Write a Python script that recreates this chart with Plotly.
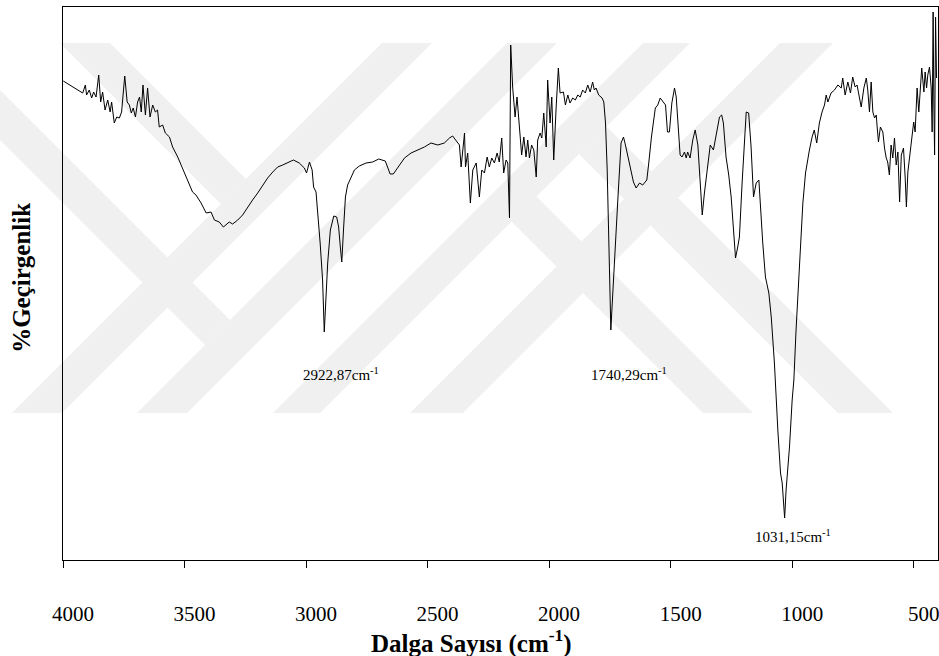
import numpy as np
import plotly.graph_objects as go

# FTIR spektrumu: dalga sayisi (cm-1) ve gecirgenlik (eksende birim yok, keyfi olcek)
wavenumber = [
    3999, 3974, 3946, 3919, 3908, 3903, 3892, 3882, 3874, 3864, 3853, 3845, 3837, 3827, 3816,
    3806, 3800, 3789, 3779, 3768, 3759, 3746, 3736, 3727, 3719, 3711, 3702, 3693, 3685, 3678,
    3671, 3661, 3652, 3642, 3631, 3620, 3611, 3604, 3590, 3579, 3562, 3549, 3528, 3508, 3487,
    3467, 3453, 3432, 3411, 3391, 3377, 3357, 3340, 3316, 3302, 3281, 3261, 3240, 3220, 3199,
    3178, 3158, 3137, 3117, 3096, 3076, 3052, 3028, 3007, 2998, 2986, 2975, 2969, 2959, 2952,
    2942, 2932, 2925, 2920, 2911, 2900, 2886, 2874, 2866, 2859, 2853, 2846, 2838, 2829, 2815,
    2801, 2781, 2753, 2726, 2701, 2674, 2664, 2654, 2641, 2630, 2616, 2595, 2568, 2541, 2513,
    2486, 2458, 2431, 2410, 2397, 2383, 2369, 2362, 2355, 2348, 2344, 2335, 2324, 2314, 2300,
    2287, 2277, 2266, 2255, 2246, 2236, 2225, 2214, 2205, 2195, 2187, 2177, 2170, 2163, 2158,
    2150, 2140, 2132, 2122, 2113, 2104, 2095, 2088, 2081, 2072, 2063, 2053, 2047, 2037, 2030,
    2022, 2012, 2006, 1996, 1989, 1981, 1971, 1962, 1955, 1941, 1933, 1923, 1914, 1903, 1892,
    1882, 1872, 1862, 1851, 1841, 1831, 1821, 1814, 1807, 1796, 1782, 1775, 1768, 1761, 1755,
    1749, 1746, 1741, 1731, 1718, 1704, 1694, 1686, 1677, 1663, 1653, 1642, 1628, 1615, 1598,
    1590, 1579, 1563, 1553, 1543, 1532, 1521, 1513, 1505, 1495, 1484, 1477, 1468, 1461, 1453,
    1443, 1436, 1430, 1420, 1409, 1399, 1388, 1379, 1370, 1361, 1350, 1337, 1324, 1313, 1299,
    1290, 1283, 1272, 1261, 1251, 1242, 1233, 1224, 1217, 1206, 1196, 1189, 1179, 1169, 1159,
    1148, 1137, 1132, 1121, 1110, 1096, 1086, 1073, 1059, 1048, 1041, 1031, 1025, 1011, 1000,
    993, 984, 970, 956, 945, 936, 929, 918, 909, 899, 888, 877, 867, 860, 853,
    840, 826, 812, 798, 792, 782, 771, 760, 751, 741, 733, 723, 716, 705, 695,
    689, 682, 675, 668, 661, 654, 650, 645, 637, 627, 620, 613, 607, 600, 593,
    586, 579, 572, 565, 558, 551, 542, 535, 530, 524, 517, 508, 500, 494, 486,
    479, 472, 467, 458, 453, 447, 442, 435, 428, 424, 420, 417, 414, 410, 406,
]
transmittance = [
    479, 475, 471, 467, 475, 465, 470, 462, 468, 463, 485, 458, 468, 450, 460,
    448, 458, 437, 443, 442, 448, 484, 458, 455, 447, 452, 443, 458, 463, 448,
    475, 445, 472, 443, 455, 448, 450, 433, 435, 427, 423, 413, 403, 392, 380,
    368, 365, 357, 347, 348, 340, 338, 333, 338, 336, 340, 345, 353, 360, 367,
    375, 382, 388, 393, 395, 397, 400, 397, 392, 387, 398, 390, 373, 368, 348,
    317, 280, 228, 253, 297, 330, 344, 343, 333, 313, 298, 330, 363, 375, 383,
    390, 394, 397, 398, 401, 399, 393, 386, 386, 390, 395, 402, 407, 410, 413,
    417, 415, 417, 422, 424, 420, 415, 393, 410, 427, 393, 407, 357, 390, 397,
    363, 390, 387, 403, 393, 402, 397, 407, 398, 422, 387, 400, 397, 342, 515,
    473, 443, 463, 435, 405, 423, 403, 420, 402, 415, 410, 383, 420, 427, 422,
    447, 413, 480, 437, 463, 400, 453, 492, 467, 468, 455, 465, 457, 462, 460,
    465, 463, 470, 467, 475, 468, 478, 470, 472, 465, 462, 458, 437, 390, 323,
    270, 230, 253, 303, 357, 417, 423, 415, 405, 390, 378, 372, 377, 375, 380,
    397, 423, 452, 455, 462, 458, 455, 428, 428, 457, 472, 463, 430, 405, 403,
    408, 402, 408, 402, 420, 430, 415, 380, 345, 367, 390, 415, 410, 423, 443,
    445, 437, 403, 385, 363, 333, 302, 313, 323, 377, 423, 448, 447, 413, 363,
    377, 380, 357, 317, 283, 267, 243, 197, 130, 87, 77, 42, 70, 113, 160,
    180, 230, 297, 357, 387, 403, 410, 423, 430, 417, 437, 448, 455, 465, 458,
    467, 470, 475, 472, 482, 465, 478, 467, 483, 473, 475, 463, 453, 472, 482,
    470, 448, 478, 448, 442, 445, 432, 418, 433, 428, 412, 402, 398, 385, 415,
    402, 422, 395, 408, 358, 405, 412, 382, 353, 388, 402, 425, 438, 428, 472,
    448, 482, 492, 468, 488, 472, 485, 493, 472, 428, 548, 455, 405, 543, 482,
]

tick_values = [4000, 3500, 3000, 2500, 2000, 1500, 1000, 500]
peak_wavenumbers = [2922.87, 1740.29, 1031.15]
peak_labels = ["2922,87cm<sup>-1</sup>", "1740,29cm<sup>-1</sup>", "1031,15cm<sup>-1</sup>"]

x_title = "Dalga Sayısı (cm<sup>-1</sup>)"
y_title = "%Geçirgenlik"

FONT = "Liberation Serif, Times New Roman, serif"
W, H = 939, 656
M_L, M_R, M_T, M_B = 63, 1, 7, 96

fig = go.Figure()


# arka plandaki soluk filigran (yaklasik), piksel -> paper donusumu
def wm_path(points):
    pw = W - M_L - M_R
    ph = H - M_T - M_B
    pts = [f"{(x - M_L) / pw:.4f},{(H - M_B - y) / ph:.4f}" for x, y in points]
    return "M " + " L ".join(pts) + " Z"


def slash_band(c1, c2, top=43, bottom=413):
    return [(c1 - bottom, bottom), (c2 - bottom, bottom), (c2 - top, top), (c1 - top, top)]


watermark = [slash_band(c1, c2) for c1, c2 in [(425, 475), (550, 600), (686, 733), (823, 876)]]
watermark += [
    [(60, 43), (110, 43), (246, 179), (221, 204)],
    [(0, 90), (230, 320), (205, 345), (0, 140)],
    [(511, 221), (536, 196), (753, 413), (703, 413)],
    [(579, 154), (606, 126), (893, 413), (838, 413)],
]
for poly in watermark:
    fig.add_shape(type='path', path=wm_path(poly), xref='paper', yref='paper',
                  fillcolor='#f0f0f0', line=dict(width=0), layer='below')

fig.add_trace(go.Scatter(
    x=wavenumber,
    y=transmittance,
    mode='lines',
    line=dict(color='black', width=1),
    hoverinfo='x+y',
    showlegend=False,
))

# pik etiketleri: pikin en dusuk noktasinin hemen altina
wn_arr = np.array(wavenumber)
tr_arr = np.array(transmittance)
label_offsets = [(16, -42), (17, -44), (8, -18)]
for wn, text, (dx, dy) in zip(peak_wavenumbers, peak_labels, label_offsets):
    window = np.abs(wn_arr - wn) < 25
    y_min = tr_arr[window].min()
    fig.add_annotation(
        x=wn, y=y_min, text=text, showarrow=False,
        xshift=dx, yshift=dy, xanchor='center', yanchor='middle',
        font=dict(family=FONT, size=15, color='black'),
    )

# eksen basliklari
fig.add_annotation(
    x=0.467, y=-0.147, xref='paper', yref='paper', text=x_title, showarrow=False,
    xanchor='center', yanchor='middle',
    font=dict(family=FONT, size=25, color='black', weight='bold'),
)
fig.add_annotation(
    x=-0.047, y=0.51, xref='paper', yref='paper', text=y_title, showarrow=False,
    textangle=-90, xanchor='center', yanchor='middle',
    font=dict(family=FONT, size=25, color='black', weight='bold'),
)

fig.update_xaxes(
    range=[4000, 400],
    tickvals=tick_values,
    ticktext=[str(v) for v in tick_values],
    ticks='outside', ticklen=7, tickwidth=1, tickcolor='black',
    tickfont=dict(family=FONT, size=21, color='black'),
    ticklabelstandoff=28,
    ticklabelshift=-10,
    ticklabeloverflow='allow',
    automargin=False,
    showline=True, linecolor='black', linewidth=1, mirror=True,
    showgrid=False, zeroline=False,
)
fig.update_yaxes(
    range=[0, 553],
    showticklabels=False, ticks='',
    automargin=False,
    showline=True, linecolor='black', linewidth=1, mirror=True,
    showgrid=False, zeroline=False,
)

fig.update_layout(
    width=W, height=H,
    margin=dict(l=M_L, r=M_R, t=M_T, b=M_B, autoexpand=False),
    plot_bgcolor='rgba(0,0,0,0)', paper_bgcolor='white',
    font=dict(family=FONT, color='black'),
    showlegend=False,
)

# sayfanin varsayilan 8px kenar boslugunu kaldir
fig.write_html("out.html", config={'displayModeBar': False},
               post_script="document.body.style.margin='0';")
